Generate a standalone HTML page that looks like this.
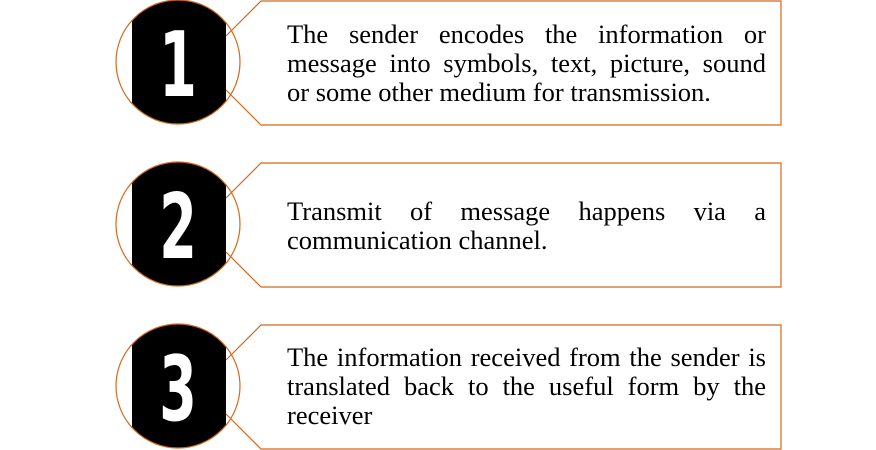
<!DOCTYPE html>
<html><head><meta charset="utf-8"><style>
html,body{margin:0;padding:0;background:#fff;width:876px;height:450px;overflow:hidden;position:relative}
svg{position:absolute;left:0;top:0}
.t{position:absolute;left:287px;width:479px;font-family:"Liberation Serif",serif;font-size:26.5px;line-height:29px;color:#000}
.t div{text-align:justify;text-align-last:justify;white-space:nowrap}
.t div.l{text-align-last:left}
</style></head><body>
<svg width="876" height="450" viewBox="0 0 876 450">
<defs>
<clipPath id="c1"><circle cx="178" cy="62" r="62"/></clipPath>
<clipPath id="c2"><circle cx="178" cy="224" r="62"/></clipPath>
<clipPath id="c3"><circle cx="178" cy="386" r="62"/></clipPath>
</defs>
<g fill="none" stroke="#d2691e" stroke-width="1.2">
<path d="M226,36 L261,1 L781,1 L781,125 L261,125 L226,90"/>
<path d="M226,198 L261,163 L781,163 L781,287 L261,287 L226,252"/>
<path d="M226,360 L261,325 L781,325 L781,449 L261,449 L226,414"/>
</g>
<rect x="132" y="0" width="94" height="130" fill="#000" clip-path="url(#c1)"/>
<rect x="132" y="160" width="94" height="130" fill="#000" clip-path="url(#c2)"/>
<rect x="132" y="322" width="94" height="130" fill="#000" clip-path="url(#c3)"/>
<g fill="none" stroke="#d2691e" stroke-width="1.2">
<circle cx="178" cy="62" r="62"/>
<circle cx="178" cy="224" r="62"/>
<circle cx="178" cy="386" r="62"/>
</g>
<g fill="#fff" font-family="DejaVu Sans" font-weight="bold" font-size="90" text-anchor="middle">
<text transform="translate(178,96) scale(0.6,1)">1</text>
<text transform="translate(178,258) scale(0.6,1)">2</text>
<text transform="translate(178,420) scale(0.6,1)">3</text>
</g>
</svg>
<div class="t" style="top:20px">
<div>The sender encodes the information or</div>
<div>message into symbols, text, picture, sound</div>
<div class="l">or some other medium for transmission.</div>
</div>
<div class="t" style="top:197px">
<div>Transmit of message happens via a</div>
<div class="l">communication channel.</div>
</div>
<div class="t" style="top:343px">
<div>The information received from the sender is</div>
<div>translated back to the useful form by the</div>
<div class="l">receiver</div>
</div>
</body></html>
